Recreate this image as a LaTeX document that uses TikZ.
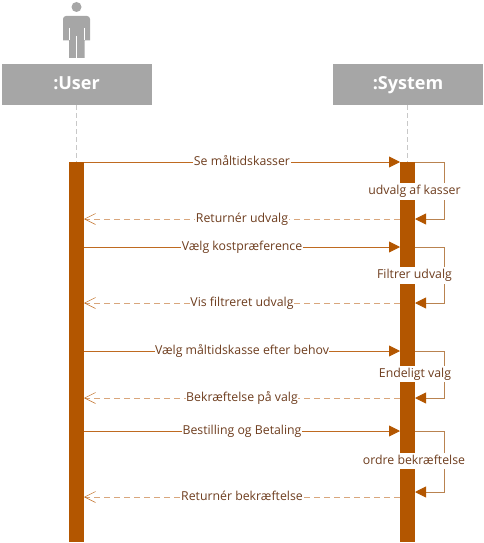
\documentclass[tikz,border=0pt]{standalone}
\usepackage{fontspec}
\setmainfont{Open Sans}
\usetikzlibrary{arrows.meta}
\definecolor{barc}{HTML}{B35600}
\definecolor{msgc}{HTML}{BF6A20}
\definecolor{retc}{HTML}{D9A67C}
\definecolor{selfc}{HTML}{B98350}
\definecolor{txtc}{HTML}{6E3D1E}
\definecolor{headc}{HTML}{A6A6A6}
\definecolor{lifec}{HTML}{C8C8C8}
\tikzset{
 x=1pt,y=-1pt,
 headbox/.style={fill=headc,text=white,minimum width=150pt,minimum height=41pt,inner sep=0pt,font=\bfseries\fontsize{18}{20}\selectfont,text height=13.5pt,text depth=3pt},
 actbar/.style={fill=barc,minimum width=15pt,inner sep=0pt},
 lifeline/.style={lifec,line width=.8pt,dash pattern=on 5pt off 3pt},
 msg/.style={msgc,line width=.9pt,-{Triangle[length=11pt,width=11pt,fill=barc,barc]}},
 ret/.style={retc,line width=.9pt,dash pattern=on 6pt off 4pt,-{Straight Barb[length=11pt,width=11pt,msgc,line width=.5pt]}},
 selfmsg/.style={selfc,line width=.9pt,-{Triangle[length=11pt,width=11pt,fill=barc,barc]}},
 lbl/.style={fill=white,text=txtc,inner xsep=0.5pt,inner ysep=0.5pt,font=\fontsize{12.3}{13}\selectfont,text height=9pt,text depth=2.5pt},
 selflbl/.style={lbl,inner ysep=2.5pt},
}
\begin{document}
\begin{tikzpicture}
\useasboundingbox (0,0) rectangle (484,543);
% actor
\fill[headc] (76.5,7) circle (5);
\fill[headc] (63,40.5) [rounded corners=3pt] -- (63,16) -- (90,16) [sharp corners] -- (90,40.5) -- (84.5,40.5) -- (84.5,58) -- (69,58) -- (69,40.5) -- cycle;
\draw[white,line width=.7pt] (76.7,36) -- (76.7,58);
\draw[white,line width=.5pt] (69,28) -- (69,40.5) (84.5,28) -- (84.5,40.5);
% heads
\node[headbox] (user) at (76.5,84.5) {:User};
\node[headbox] (sys) at (408,84.5) {:System};
% bars
\node[actbar,minimum height=380pt] (ubar) at (76.5,352) {};
\node[actbar,minimum height=380pt] (sbar) at (407.5,352) {};
\coordinate (utop) at (76.5,162);
\coordinate (stop) at (407.5,162);
\draw[lifeline] (user.south) -- (utop);
\draw[lifeline] (sys.south -| stop) -- (stop);
% end points
\foreach \n/\y in {a/162,b/219,c/247,d/303,e/351,f/398,g/431,h/497}{
  \coordinate (u\n) at (84,\y);
  \coordinate (s\n) at (400,\y);
  \coordinate (r\n) at (415,\y);
  \coordinate (x\n) at (444,\y);
}
\coordinate (r2) at (415,492);
\coordinate (x2) at (444,492);
% messages
\draw[msg] (ua) -- node[lbl] (m1) {Se måltidskasser} (sa);
\draw[ret] (sb) -- node[lbl] (m2) {Returnér udvalg} (ub);
\draw[msg] (uc) -- node[lbl] (m3) {Vælg kostpræference} (sc);
\draw[ret] (sd) -- node[lbl] (m4) {Vis filtreret udvalg} (ud);
\draw[msg] (ue) -- node[lbl] (m5) {Vælg måltidskasse efter behov} (se);
\draw[ret] (sf) -- node[lbl] (m6) {Bekræftelse på valg} (uf);
\draw[msg] (ug) -- node[lbl] (m7) {Bestilling og Betaling} (sg);
\draw[ret] (sh) -- node[lbl] (m8) {Returnér bekræftelse} (uh);
% self messages
\draw[selfmsg] (ra) -- (xa) -- (xb) -- (rb);
\draw[selfmsg] (rc) -- (xc) -- (xd) -- (rd);
\draw[selfmsg] (re) -- (xe) -- (xf) -- (rf);
\draw[selfmsg] (rg) -- (xg) -- (x2) -- (r2);
% self labels
\node[selflbl] (s1) at (414.5,191.5) {udvalg af kasser};
\node[selflbl] (s2) at (414.5,275.5) {Filtrer udvalg};
\node[selflbl] (s3) at (415,374) {Endeligt valg};
\node[selflbl] (s4) at (414,461) {ordre bekræftelse};
\end{tikzpicture}
\end{document}
